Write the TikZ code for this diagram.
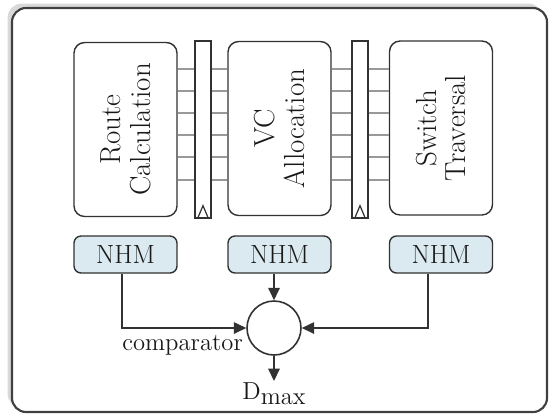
\documentclass[tikz,border=0pt]{standalone}
\usetikzlibrary{arrows.meta,shadows}
\definecolor{nhmblue}{RGB}{219,234,240}
\definecolor{linegray}{RGB}{50,50,50}

\begin{document}
\begin{tikzpicture}[x=0.02cm,y=-0.02cm,
  font=\fontsize{14}{15}\selectfont, text=black!90,
  stage/.style={draw=linegray, line width=0.8pt, rounded corners=6pt,
    minimum width=2.06cm, minimum height=3.48cm},
  reg/.style={draw=linegray, line width=0.8pt,
    minimum width=0.32cm, minimum height=3.54cm},
  nhm/.style={draw=linegray, line width=0.8pt, fill=nhmblue, rounded corners=4pt,
    minimum width=2.06cm, minimum height=0.74cm, font=\fontsize{15}{16}\selectfont},
  label/.style={rotate=90, align=center, font=\fontsize{16.5}{17}\selectfont},
  wire/.style={linegray, line width=0.8pt, -{Triangle[length=7pt,width=6.5pt]}},
  latch/.style={black!40, line width=0.6pt}]
  \useasboundingbox (0,0) rectangle (550,417);
  % outer frame
  \draw[rounded corners=8pt, line width=1.2pt, draw=black!75, fill=white,
    drop shadow={shadow xshift=-2.5pt, shadow yshift=2.5pt, opacity=0.3}]
    (12,8) rectangle (547,412);
  % pipeline stages
  \node[stage] (rc) at (125.5,129.5) {};
  \node[stage] (va) at (279.5,128.5) {};
  \node[stage] (st) at (441,128) {};
  \node[label] (rctext) at (rc) {Route\\Calculation};
  \node[label] (vatext) at (va) {VC\\Allocation};
  \node[label] (sttext) at (st) {Switch\\Traversal};
  % pipeline registers
  \node[reg] (rega) at (203,129.5) {};
  \node[reg] (regb) at (360,129.5) {};
  \draw[linegray, line width=0.7pt] ([xshift=-0.11cm]rega.south) -- ([yshift=0.26cm]rega.south) -- ([xshift=0.11cm]rega.south);
  \draw[linegray, line width=0.7pt] ([xshift=-0.11cm]regb.south) -- ([yshift=0.26cm]regb.south) -- ([xshift=0.11cm]regb.south);
  \foreach \y in {69,91,113,135,157,180} {
    \draw[latch] (rc.east |- 0,\y) -- (rega.west |- 0,\y);
    \draw[latch] (rega.east |- 0,\y) -- (va.west |- 0,\y);
    \draw[latch] (va.east |- 0,\y) -- (regb.west |- 0,\y);
    \draw[latch] (regb.east |- 0,\y) -- (st.west |- 0,\y);
  }
  % monitors
  \node[nhm] (nhml) at (125.5,254.5) {NHM};
  \node[nhm] (nhmm) at (279.5,254.5) {NHM};
  \node[nhm] (nhmr) at (441,254.5) {NHM};
  \node[draw=linegray, circle, line width=0.9pt, minimum size=1.08cm, inner sep=0pt] (cmp) at (274,328) {};
  \node[anchor=east, inner sep=1pt] (cmplabel) at (245,345) {comparator};
  \node[anchor=north, inner sep=1pt] (dmax) at (274,381) {D\raisebox{-0.45ex}{max}};
  \draw[wire] ([xshift=-0.07cm]nhml.south) |- (cmp.west);
  \draw[wire] (nhmm.south -| cmp) -- (cmp.north);
  \draw[wire] ([xshift=-0.26cm]nhmr.south) |- (cmp.east);
  \draw[wire] (cmp.south) -- (dmax.north);
\end{tikzpicture}
\end{document}
